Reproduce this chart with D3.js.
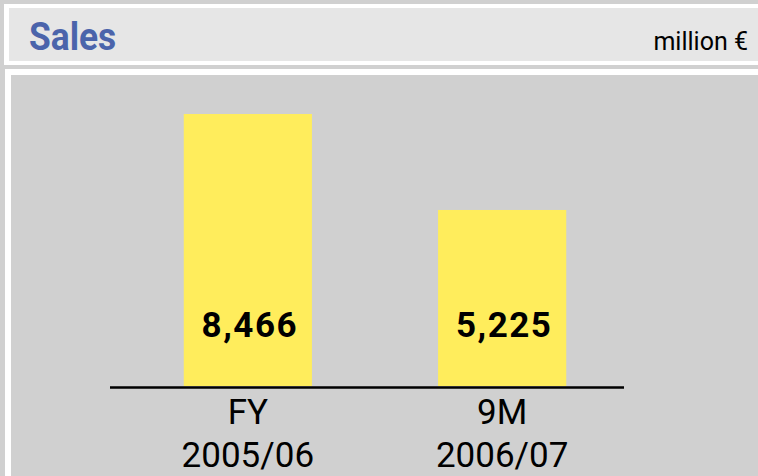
<!DOCTYPE html>
<html>
<head>
<meta charset="utf-8">
<script src="https://cdn.jsdelivr.net/npm/d3@7"></script>
<style>
  body { margin: 0; background: #d0d0d0; }
  svg { display: block; font-family: Roboto, "Liberation Sans", sans-serif; }
</style>
</head>
<body>
<div id="chart"></div>
<script>
// chart data
const categories = ['FY\n2005/06', '9M\n2006/07'];
const sales = [8466, 5225];
const valueLabels = ['8,466', '5,225'];
const title = 'Sales';
const unit = 'million €';

const width = 758, height = 476;

const svg = d3.select('#chart').append('svg')
    .attr('width', width)
    .attr('height', height);

// background panels
svg.append('rect').attr('width', width).attr('height', height).attr('fill', '#d0d0d0');
svg.append('rect').attr('x', 4).attr('y', 4).attr('width', width).attr('height', 61).attr('fill', '#ffffff');
svg.append('rect').attr('x', 9).attr('y', 8).attr('width', width).attr('height', 53).attr('fill', '#e6e6e6');
svg.append('rect').attr('x', 5).attr('y', 69).attr('width', width).attr('height', height).attr('fill', '#ffffff');
svg.append('rect').attr('x', 11).attr('y', 75).attr('width', width).attr('height', height).attr('fill', '#d0d0d0');

// header
svg.append('text')
    .attr('transform', 'translate(29,50) scale(0.93,1)')
    .attr('fill', '#4b64ab')
    .style('font-size', '38px')
    .style('font-weight', 'bold')
    .text(title);
svg.append('text')
    .attr('x', 748).attr('y', 50)
    .attr('text-anchor', 'end')
    .attr('fill', '#000')
    .style('font-size', '25px')
    .text(unit);

// scales
const baseY = 386;
const xScale = d3.scaleBand()
    .domain(categories)
    .range([110, 640])
    .paddingInner(0.496)
    .paddingOuter(0.29);
const yScale = d3.scaleLinear()
    .domain([-720, d3.max(sales)])
    .range([baseY, 114]);

// bars
svg.selectAll('.bar')
    .data(sales)
    .enter().append('rect')
    .attr('class', 'bar')
    .attr('x', (d, i) => xScale(categories[i]))
    .attr('y', (d) => yScale(d))
    .attr('width', xScale.bandwidth())
    .attr('height', (d) => baseY - yScale(d))
    .attr('fill', '#ffed5c');

// value labels
svg.selectAll('.val')
    .data(valueLabels)
    .enter().append('text')
    .attr('class', 'val')
    .attr('x', (d, i) => xScale(categories[i]) + xScale.bandwidth() / 2 + 2)
    .attr('y', 337)
    .attr('text-anchor', 'middle')
    .style('font-size', '35px')
    .style('font-weight', 'bold')
    .style('letter-spacing', '1.5px')
    .text((d) => d);

// baseline
svg.append('line')
    .attr('x1', 110).attr('x2', 624)
    .attr('y1', baseY + 1.5).attr('y2', baseY + 1.5)
    .attr('stroke', '#000')
    .attr('stroke-width', 2.5);

// category labels
const catText = svg.selectAll('.cat')
    .data(categories)
    .enter().append('text')
    .attr('class', 'cat')
    .attr('text-anchor', 'middle')
    .style('font-size', '35px');
catText.selectAll('tspan')
    .data((d, i) => d.split('\n').map((t) => ({t: t, c: categories[i]})))
    .enter().append('tspan')
    .attr('x', (d) => xScale(d.c) + xScale.bandwidth() / 2)
    .attr('y', (d, j) => 424 + j * 43)
    .text((d) => d.t);
</script>
</body>
</html>
